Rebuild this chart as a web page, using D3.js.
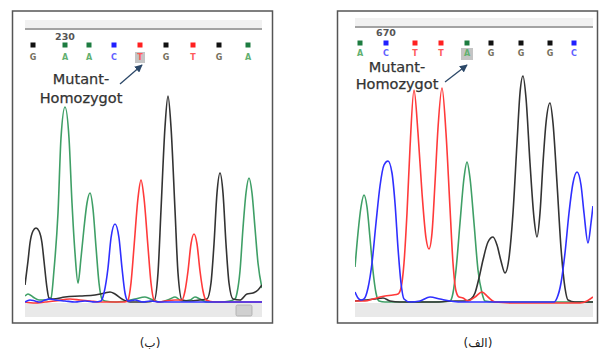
<!DOCTYPE html>
<html><head><meta charset="utf-8">
<script src="https://cdn.jsdelivr.net/npm/d3@7"></script>
<style>html,body{margin:0;padding:0;background:#fff;}svg{display:block;}</style>
</head><body>
<svg id="c" width="600" height="352"></svg>
<script>
// ---------- data (scan position, intensity) ----------
const leftBases = ["G","A","A","C","T","G","T","G","A"];
const leftBaseScans = [8,40,64,89,115,141,168,194,223];
const leftPosLabel = "230";
const rightBases = ["A","C","T","T","A","G","G","G","C"];
const rightBaseScans = [5,31,60,86,112,136,166,195,219];
const rightPosLabel = "670";
const mutantIndex = 4;
const noteLines = ["Mutant-","Homozygot"];
const captions = ["(ب)","(الف)"];

const leftG = [[0,180],[3,420],[5,600],[8,720],[11,750],[14,720],[17,600],[19,420],[22,150],[24,50],[28,40],[40,60],[55,70],[70,80],[80,100],[85,110],[90,90],[97,40],[105,10],[120,10],[129,20],[133,300],[136,930],[140,1760],[143,2070],[146,1760],[150,930],[153,300],[157,30],[165,20],[175,30],[182,40],[186,200],[189,590],[192,1100],[195,1300],[198,1100],[201,590],[204,200],[208,40],[215,30],[222,90],[228,100],[233,130],[237,180]];
const leftA = [[0,70],[3,90],[8,60],[14,30],[20,30],[24,40],[26,50],[29,330],[33,900],[36,1650],[40,1960],[44,1650],[47,1000],[50,500],[53,200],[56,450],[59,750],[62,1000],[65,1100],[68,940],[71,560],[74,200],[77,40],[80,20],[90,10],[100,20],[110,40],[120,60],[128,30],[135,10],[145,40],[150,60],[157,20],[165,30],[170,60],[175,40],[182,10],[195,10],[205,20],[210,40],[212,100],[215,320],[218,750],[221,1100],[224,1250],[227,1100],[230,750],[233,400],[237,150]];
const leftC = [[0,10],[5,30],[10,20],[15,10],[20,30],[25,40],[30,30],[40,20],[50,10],[60,20],[70,10],[76,20],[79,100],[83,350],[86,650],[90,790],[94,650],[97,350],[100,100],[103,20],[110,30],[118,10],[125,20],[135,10],[150,10],[165,10],[180,10],[200,10],[220,10],[237,10]];
const leftT = [[0,10],[10,0],[20,10],[30,20],[45,40],[55,30],[65,20],[75,10],[90,10],[100,10],[103,30],[106,200],[109,560],[113,1050],[116,1230],[119,1050],[123,560],[126,200],[129,30],[133,10],[140,20],[150,30],[157,30],[160,120],[163,320],[166,590],[169,690],[172,590],[175,320],[178,120],[181,30],[190,10],[200,10],[210,10],[225,10],[237,10]];

const rightA = [[0,360],[3,700],[6,960],[9,1080],[12,960],[15,650],[18,320],[21,100],[24,20],[30,10],[40,10],[60,10],[80,10],[95,20],[98,100],[101,330],[105,800],[109,1250],[112,1410],[115,1250],[119,800],[123,330],[127,100],[130,20],[140,10],[180,10],[238,10]];
const rightC = [[0,110],[3,50],[6,30],[9,40],[13,150],[17,400],[21,800],[25,1170],[29,1380],[33,1420],[37,1300],[40,1000],[43,550],[46,200],[49,40],[55,10],[65,20],[75,60],[85,40],[95,20],[105,10],[120,10],[140,10],[160,10],[180,10],[199,10],[202,50],[206,200],[210,500],[214,900],[218,1200],[222,1310],[226,1180],[229,900],[233,600],[236,800],[238,970]];
const rightT = [[0,20],[10,20],[18,40],[25,60],[30,70],[38,80],[43,90],[46,150],[49,400],[52,900],[55,1550],[59,2130],[63,1700],[67,1100],[71,650],[74,540],[77,700],[80,1200],[83,1750],[87,2150],[91,1700],[95,950],[98,400],[101,120],[104,60],[108,50],[113,20],[120,60],[127,110],[133,60],[140,10],[160,0],[200,0],[225,0],[232,20],[238,60]];
const rightG = [[0,20],[10,30],[20,40],[28,50],[35,20],[45,10],[60,10],[80,10],[100,20],[110,20],[116,40],[120,100],[124,250],[128,430],[133,610],[138,660],[142,580],[146,420],[150,300],[154,450],[158,900],[162,1600],[165,2100],[168,2270],[171,2050],[175,1400],[179,850],[182,660],[185,900],[188,1400],[191,1800],[195,2000],[198,1800],[202,1200],[206,550],[210,150],[213,30],[220,10],[238,10]];

// ---------- layout / style ----------
const colors = {A:"#3f9f66", C:"#2f2fff", G:"#333333", T:"#ff3a3a"};
const sqColors = {A:"#1d7c40", C:"#2020ff", G:"#111111", T:"#ff2020"};
const letterColors = {A:"#62b070", C:"#6060ff", G:"#75705e", T:"#ff5a5a"};

const panels = [
  {frame:[12.5,11,260,312], x0:25, x1:262, base:303, band:[303,317], top:[20,28], topLine:29,
   domain:[0,237], traces:{A:leftA,G:leftG,T:leftT,C:leftC}, bases:leftBases, scans:leftBaseScans,
   posLabel:leftPosLabel, posY:37, sqY:45, letY:57, hl:[135,52,10,11],
   note:{x:[81,81], y:[79,98]}, arrow:[120,84,142,65], thumb:[236,305,16,11], caption:{x:150,y:343,t:captions[0]}},
  {frame:[337.5,11,260,312], x0:355, x1:593, base:303, band:[303,317], top:[18,26], topLine:27,
   domain:[0,238], traces:{A:rightA,G:rightG,T:rightT,C:rightC}, bases:rightBases, scans:rightBaseScans,
   posLabel:rightPosLabel, posY:33, sqY:43, letY:53.5, hl:[461,48,12,12],
   note:{x:[397,397], y:[66.5,84]}, arrow:[445,82,467,65], thumb:null, caption:{x:478,y:343,t:captions[1]}}
];

const svg = d3.select("#c");
const defs = svg.append("defs");
defs.append("marker").attr("id","ah").attr("viewBox","0 0 10 10").attr("refX",9).attr("refY",5)
  .attr("markerWidth",6).attr("markerHeight",6).attr("orient","auto")
  .append("path").attr("d","M0,0L10,5L0,10z").attr("fill","#2c4868");

panels.forEach((p,i)=>{
  const g = svg.append("g");
  g.append("rect").attr("x",p.frame[0]).attr("y",p.frame[1]).attr("width",p.frame[2]).attr("height",p.frame[3])
    .attr("fill","#fff").attr("stroke","#555").attr("stroke-width",1.5);
  g.append("rect").attr("x",p.x0).attr("y",p.top[0]).attr("width",p.x1-p.x0).attr("height",p.top[1]-p.top[0]).attr("fill","#f1f1f1");
  g.append("line").attr("x1",p.x0).attr("x2",p.x1).attr("y1",p.topLine).attr("y2",p.topLine).attr("stroke","#a3a3a3").attr("stroke-width",2);
  g.append("rect").attr("x",p.x0).attr("y",p.band[0]).attr("width",p.x1-p.x0).attr("height",p.band[1]-p.band[0]).attr("fill","#e9e9e9");
  if(p.thumb){
    g.append("rect").attr("x",p.thumb[0]).attr("y",p.thumb[1]).attr("width",p.thumb[2]).attr("height",p.thumb[3])
      .attr("rx",1.5).attr("fill","#d0d0d0").attr("stroke","#aaa").attr("stroke-width",0.8);
  }
  const x = d3.scaleLinear().domain(p.domain).range([p.x0,p.x1]);
  const y = d3.scaleLinear().domain([0,2200]).range([p.base,p.base-220]);
  const clipId = "clip"+i;
  defs.append("clipPath").attr("id",clipId).append("rect").attr("x",p.x0).attr("y",p.topLine+2).attr("width",p.x1-p.x0).attr("height",p.base-p.topLine);
  const line = d3.line().x(d=>x(d[0])).y(d=>y(d[1])).curve(d3.curveMonotoneX);
  const tg = g.append("g").attr("clip-path",`url(#${clipId})`);
  ["A","G","T","C"].forEach(k=>{
    tg.append("path").attr("d",line(p.traces[k])).attr("fill","none").attr("stroke",colors[k]).attr("stroke-width",1.6).attr("stroke-linejoin","round");
  });
  g.append("rect").attr("x",p.hl[0]).attr("y",p.hl[1]).attr("width",p.hl[2]).attr("height",p.hl[3]).attr("fill","#c4c4c4");
  p.bases.forEach((b,j)=>{
    const cx = x(p.scans[j]);
    g.append("rect").attr("x",cx-2.5).attr("y",p.sqY-2.5).attr("width",5).attr("height",5).attr("fill",sqColors[b]);
    g.append("text").attr("x",cx).attr("y",p.letY).attr("dy","0.35em").attr("text-anchor","middle")
      .attr("font-family","DejaVu Sans").attr("font-size",8).attr("font-weight","bold").attr("fill",letterColors[b]).text(b);
  });
  g.append("text").attr("x",x(p.scans[1])).attr("y",p.posY).attr("dy","0.35em").attr("text-anchor","middle")
    .attr("font-family","DejaVu Sans").attr("font-size",9.5).attr("font-weight","bold").attr("fill","#555").text(p.posLabel);
  noteLines.forEach((t,j)=>{
    g.append("text").attr("x",p.note.x[j]).attr("y",p.note.y[j]).attr("dy","0.35em").attr("text-anchor","middle")
      .attr("font-family","DejaVu Sans").attr("font-size",14.5).attr("fill","#333").attr("stroke","#333").attr("stroke-width",0.25).text(t);
  });
  g.append("line").attr("x1",p.arrow[0]).attr("y1",p.arrow[1]).attr("x2",p.arrow[2]).attr("y2",p.arrow[3])
    .attr("stroke","#2c4868").attr("stroke-width",1.3).attr("marker-end","url(#ah)");
  svg.append("text").attr("x",p.caption.x).attr("y",p.caption.y).attr("dy","0.35em").attr("text-anchor","middle")
    .attr("font-family","DejaVu Sans").attr("font-size",12).attr("fill","#222").text(p.caption.t);
});
</script>
</body></html>
